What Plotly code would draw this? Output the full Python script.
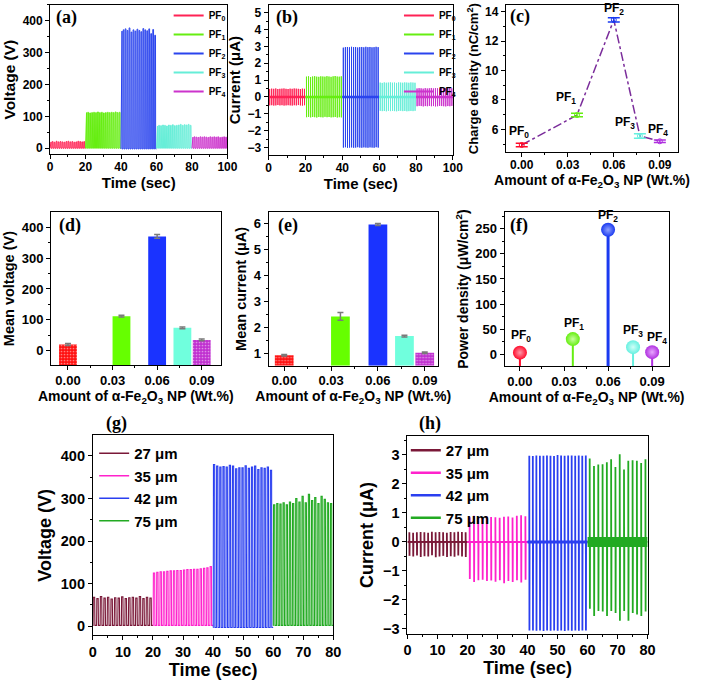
import plotly.graph_objects as go

# ---------------- data ----------------
pf_labels = ["PF<sub>0</sub>", "PF<sub>1</sub>", "PF<sub>2</sub>", "PF<sub>3</sub>", "PF<sub>4</sub>"]
np_content = [0.0, 0.036, 0.06, 0.077, 0.09]          # wt.% of alpha-Fe2O3 NP
wt_ticks = [0.00, 0.03, 0.06, 0.09]

# (a) voltage peaks (V) per pulse, segments of 20 s
time_segments_pf = [0, 20, 40, 60, 80, 100]
volt_pf0 = [20, 21, 19, 22, 20, 21, 20, 19, 21, 22, 20, 21, 19, 20, 22, 21, 20, 21]
volt_pf1 = [112, 113, 111, 112, 113, 112, 114, 112, 113, 111, 112, 113, 112, 113, 112, 114, 112, 113]
volt_pf2 = [368, 372, 375, 370, 378, 365, 372, 368, 374, 370, 366, 376, 372, 369, 375, 360, 373, 355]
volt_pf3 = [70, 72, 71, 73, 72, 70, 73, 72, 74, 71, 72, 73, 75, 72, 74, 73, 75, 72]
volt_pf4 = [35, 36, 35, 34, 36, 35, 36, 35, 34, 36, 35, 36, 35, 36, 34, 35, 36, 35]

# (b) current peaks (uA), positive / negative
cur_pf0_pos = [0.47, 0.49, 0.48, 0.50, 0.47, 0.48, 0.49, 0.50, 0.48, 0.47, 0.49, 0.48, 0.50, 0.49, 0.48, 0.47, 0.49, 0.48]
cur_pf0_neg = [-0.50, -0.49, -0.51, -0.50, -0.48, -0.50, -0.49, -0.51, -0.50, -0.49, -0.50, -0.51, -0.49, -0.50, -0.48, -0.50, -0.51, -0.49]
cur_pf1_pos = [1.20, 1.22, 1.18, 1.21, 1.23, 1.20, 1.19, 1.22, 1.21, 1.20, 1.23, 1.21, 1.19, 1.22, 1.24, 1.21, 1.20, 1.22]
cur_pf1_neg = [-1.20, -1.18, -1.21, -1.19, -1.20, -1.22, -1.19, -1.20, -1.21, -1.18, -1.20, -1.19, -1.21, -1.20, -1.19, -1.22, -1.20, -1.21]
cur_pf2_pos = [2.92, 2.95, 2.96, 2.94, 2.97, 2.95, 2.96, 2.93, 2.95, 2.96, 2.94, 2.97, 2.95, 2.96, 2.94, 2.95, 2.97, 2.95]
cur_pf2_neg = [-3.00, -2.98, -3.01, -3.00, -2.99, -3.01, -3.00, -2.98, -3.00, -3.01, -2.99, -3.00, -3.01, -2.99, -3.00, -3.01, -2.98, -3.00]
cur_pf3_pos = [0.85, 0.83, 0.86, 0.84, 0.85, 0.86, 0.84, 0.85, 0.83, 0.86, 0.85, 0.84, 0.86, 0.85, 0.84, 0.86, 0.85, 0.84]
cur_pf3_neg = [-0.82, -0.84, -0.83, -0.85, -0.82, -0.84, -0.83, -0.84, -0.85, -0.83, -0.82, -0.84, -0.83, -0.85, -0.84, -0.83, -0.84, -0.82]
cur_pf4_pos = [0.50, 0.52, 0.51, 0.49, 0.52, 0.50, 0.51, 0.53, 0.50, 0.52, 0.51, 0.50, 0.52, 0.51, 0.53, 0.50, 0.52, 0.51]
cur_pf4_neg = [-0.55, -0.53, -0.54, -0.56, -0.54, -0.55, -0.53, -0.55, -0.54, -0.56, -0.55, -0.53, -0.54, -0.55, -0.56, -0.54, -0.55, -0.53]

# (c) charge density (nC/cm2)
charge_density = [4.94, 6.97, 13.44, 5.55, 5.19]
charge_err = [0.12, 0.12, 0.15, 0.15, 0.08]

# (d) mean voltage (V)
mean_voltage = [20, 112, 370, 74, 35]
mean_voltage_err = [3, 2.5, 6, 2.5, 3]

# (e) mean current (uA)
mean_current = [0.93, 2.43, 5.97, 1.67, 1.03]
mean_current_err = [0.03, 0.15, 0.04, 0.03, 0.03]

# (f) power density (uW/cm2)
power_density = [3, 30, 248, 14, 4]

# (g)/(h) film thickness series
thickness_labels = ["27 μm", "35 μm", "42 μm", "75 μm"]
time_segments_th = [0, 20, 40, 60, 80]
volt_27 = [68, 65, 70, 66, 68, 64, 67, 66, 69, 65, 67, 68, 66, 70, 65, 68, 66]
volt_35 = [125, 127, 128, 128, 129, 130, 130, 131, 131, 132, 133, 133, 134, 134, 135, 136, 137, 140]
volt_42 = [380, 376, 374, 375, 374, 378, 376, 370, 372, 372, 377, 371, 374, 376, 368, 372, 371, 374, 366]
volt_75 = [285, 288, 287, 290, 285, 292, 288, 300, 292, 305, 290, 310, 295, 302, 288, 305, 298, 290, 288]

cur_27_pos = [0.33, 0.32, 0.33, 0.34, 0.33, 0.32, 0.35, 0.33, 0.34, 0.33, 0.32, 0.34, 0.33, 0.35, 0.34, 0.33]
cur_27_neg = [-0.48, -0.50, -0.47, -0.52, -0.49, -0.50, -0.46, -0.53, -0.50, -0.48, -0.52, -0.49, -0.51, -0.47, -0.50, -0.52]
cur_35_pos = [0.85, 0.90, 0.86, 0.84, 0.88, 0.86, 0.85, 0.83, 0.87, 0.88, 0.84, 0.90, 0.92, 0.89]
cur_35_neg = [-1.28, -1.38, -1.32, -1.30, -1.35, -1.33, -1.37, -1.32, -1.42, -1.35, -1.38, -1.32, -1.40, -1.30]
cur_42_pos = [2.97, 2.96, 2.98, 2.97, 2.97, 2.98, 2.97, 2.96, 3.00, 2.98, 2.97, 2.98, 2.98, 2.97, 2.98, 2.97, 2.98]
cur_42_neg = [-3.05, -3.05, -3.06, -3.05, -3.07, -3.05, -3.06, -3.05, -3.06, -3.05, -3.07, -3.05, -3.06, -3.05, -3.06, -3.05, -3.05]
cur_75_pos = [2.88, 2.62, 2.67, 2.68, 2.75, 2.85, 2.58, 3.02, 2.50, 2.80, 2.82, 2.80, 2.72, 2.85]
cur_75_neg = [-2.30, -2.55, -2.38, -2.40, -2.55, -2.38, -2.45, -2.72, -2.38, -2.72, -2.45, -2.50, -2.55, -2.40]

# ---------------- style ----------------
W, H = 701, 682
FONT = "Liberation Sans, Arial, sans-serif"
SERIF = "Liberation Serif, Times New Roman, serif"
pf_line_colors = ["#FF2255", "#66EE11", "#2A44EE", "#66EED8", "#CC33CC"]
pf_bar_colors = ["#FF1010", "#66FF00", "#1A33FF", "#70FFDD", "#C030D0"]
pf_pattern_fg = ["#C80000", "#000000", "#000000", "#000000", "#8A209A"]
pf_dot_colors = ["#FF0A2A", "#66EE11", "#1A3AF0", "#66F0E0", "#B030E0"]
pf_dot_tints = ["#FF9AAA", "#C8FFA0", "#8FA0FF", "#D0FFF8", "#E8A8FF"]
th_colors = ["#7A1838", "#FF22CC", "#2A3FF0", "#22AA22"]
band_widths = [1.5, 2, 3, 10]

rng_a = [-19, 450]; rng_b = [-3.46, 5.45]; rng_c = [4.44, 14.45]
rng_d = [-46.5, 449]; rng_e = [0.53, 6.45]; rng_f = [-23.8, 283.4]
rng_g = [-21.7, 449]; rng_h = [-3.17, 3.65]


def dom_x(x0, x1):
    return [x0 / W, x1 / W]


def dom_y(y0, y1):
    return [1 - y1 / H, 1 - y0 / H]


def pulse_wave(t0, t1, peaks, low=0.0):
    n = len(peaks)
    T = (t1 - t0) / n
    xs, ys = [t0], [low]
    for i, p in enumerate(peaks):
        s = t0 + i * T
        xs += [s + 0.05 * T, s + 0.12 * T, s + 0.5 * T, s + 0.57 * T, s + T]
        ys += [low, p, p, low, low]
    return xs, ys


def spike_wave(t0, t1, pos, neg):
    n = len(pos)
    T = (t1 - t0) / n
    xs, ys = [t0], [0]
    for i, (p, q) in enumerate(zip(pos, neg)):
        s = t0 + (i + 0.5) * T
        xs += [s, s, s + 0.04 * T, s + 0.08 * T]
        ys += [0, p, q, 0]
    xs.append(t1)
    ys.append(0)
    return xs, ys


fig = go.Figure()

# ---- (a) ----
volt_pf = [volt_pf0, volt_pf1, volt_pf2, volt_pf3, volt_pf4]
for i, peaks in enumerate(volt_pf):
    xs, ys = pulse_wave(time_segments_pf[i], time_segments_pf[i + 1], peaks, low=-2 if i == 2 else 0)
    fig.add_trace(go.Scatter(x=xs, y=ys, mode="lines", line=dict(color=pf_line_colors[i], width=1),
                             showlegend=False, xaxis="x", yaxis="y"))
    fig.add_trace(go.Scatter(x=[None], y=[None], mode="lines", line=dict(color=pf_line_colors[i], width=2),
                             name=pf_labels[i], legend="legend", xaxis="x", yaxis="y"))

# ---- (b) ----
cur_pf = [(cur_pf0_pos, cur_pf0_neg), (cur_pf1_pos, cur_pf1_neg), (cur_pf2_pos, cur_pf2_neg),
          (cur_pf3_pos, cur_pf3_neg), (cur_pf4_pos, cur_pf4_neg)]
for i, (pos, neg) in enumerate(cur_pf):
    t0, t1 = time_segments_pf[i], time_segments_pf[i + 1]
    xs, ys = spike_wave(t0, t1, pos, neg)
    fig.add_trace(go.Scatter(x=xs, y=ys, mode="lines", line=dict(color=pf_line_colors[i], width=1),
                             showlegend=False, xaxis="x2", yaxis="y2"))
    fig.add_trace(go.Scatter(x=[t0, t1], y=[0, 0], mode="lines", line=dict(color=pf_line_colors[i], width=2.5),
                             showlegend=False, xaxis="x2", yaxis="y2"))
    fig.add_trace(go.Scatter(x=[None], y=[None], mode="lines", line=dict(color=pf_line_colors[i], width=2),
                             name=pf_labels[i], legend="legend2", xaxis="x2", yaxis="y2"))

# ---- (c) ----
fig.add_trace(go.Scatter(x=np_content, y=charge_density, mode="lines",
                         line=dict(color="#7B2D9B", width=1.5, dash="dashdot"),
                         showlegend=False, xaxis="x3", yaxis="y3"))
for i in range(5):
    fig.add_trace(go.Scatter(x=[np_content[i]], y=[charge_density[i]], mode="markers",
                             marker=dict(symbol="circle-open", size=5, color=pf_dot_colors[i], line=dict(width=1)),
                             error_y=dict(type="data", array=[charge_err[i]], color=pf_dot_colors[i],
                                          thickness=1.5, width=6),
                             showlegend=False, xaxis="x3", yaxis="y3"))
c_label_shift = [(-3, 13), (-11, 17), (0, 11), (-15, 13), (-2, 11)]

# ---- (d) ----
bar_patterns = [".", "", "", "", "."]
fig.add_trace(go.Bar(x=np_content, y=[v - rng_d[0] for v in mean_voltage], base=rng_d[0], width=0.012,
                     marker=dict(color=pf_bar_colors, line=dict(width=0),
                                 pattern=dict(shape=bar_patterns, fgcolor=pf_pattern_fg,
                                              fillmode="overlay", size=3, solidity=0.25)),
                     error_y=dict(type="data", array=mean_voltage_err, color="#7a7a7a", thickness=1.5, width=3),
                     showlegend=False, xaxis="x4", yaxis="y4"))

# ---- (e) ----
fig.add_trace(go.Bar(x=np_content, y=[v - rng_e[0] for v in mean_current], base=rng_e[0], width=0.012,
                     marker=dict(color=pf_bar_colors, line=dict(width=0),
                                 pattern=dict(shape=bar_patterns, fgcolor=pf_pattern_fg,
                                              fillmode="overlay", size=3, solidity=0.25)),
                     error_y=dict(type="data", array=mean_current_err, color="#7a7a7a", thickness=1.5, width=3),
                     showlegend=False, xaxis="x5", yaxis="y5"))

# ---- (f) ----
for i in range(5):
    fig.add_trace(go.Scatter(x=[np_content[i], np_content[i]], y=[rng_f[0], power_density[i]], mode="lines",
                             line=dict(color=pf_dot_colors[i], width=3 if i == 2 else 2),
                             showlegend=False, xaxis="x6", yaxis="y6"))
fig.add_trace(go.Scatter(x=np_content, y=power_density, mode="markers",
                         marker=dict(size=14, color=pf_dot_colors, line=dict(width=0),
                                     gradient=dict(type="radial", color=pf_dot_tints)),
                         showlegend=False, cliponaxis=False, xaxis="x6", yaxis="y6"))
f_label_shift = [(1, 17), (1, 15), (0, 14), (0, 16), (5, 14)]


# ---- (g) ----
volt_th = [volt_27, volt_35, volt_42, volt_75]
for i, peaks in enumerate(volt_th):
    xs, ys = pulse_wave(time_segments_th[i], time_segments_th[i + 1], peaks, low=-3 if i == 2 else 2)
    fig.add_trace(go.Scatter(x=xs, y=ys, mode="lines", line=dict(color=th_colors[i], width=1.1),
                             showlegend=False, xaxis="x7", yaxis="y7"))
    fig.add_trace(go.Scatter(x=[None], y=[None], mode="lines", line=dict(color=th_colors[i], width=1.5),
                             name=thickness_labels[i], legend="legend3", xaxis="x7", yaxis="y7"))

# ---- (h) ----
cur_th = [(cur_27_pos, cur_27_neg), (cur_35_pos, cur_35_neg), (cur_42_pos, cur_42_neg), (cur_75_pos, cur_75_neg)]
for i, (pos, neg) in enumerate(cur_th):
    t0, t1 = time_segments_th[i], time_segments_th[i + 1]
    xs, ys = spike_wave(t0, t1, pos, neg)
    fig.add_trace(go.Scatter(x=xs, y=ys, mode="lines", line=dict(color=th_colors[i], width=1.8),
                             showlegend=False, xaxis="x8", yaxis="y8"))
    fig.add_trace(go.Scatter(x=[t0, t1], y=[0, 0], mode="lines",
                             line=dict(color=th_colors[i], width=band_widths[i]),
                             showlegend=False, xaxis="x8", yaxis="y8"))
    fig.add_trace(go.Scatter(x=[None], y=[None], mode="lines", line=dict(color=th_colors[i], width=2.5),
                             name=thickness_labels[i], legend="legend4", xaxis="x8", yaxis="y8"))


# ---------------- layout ----------------
def axis(domain, rng, anchor, tick_size, title, title_size, standoff, dtick=None, minor=None,
         tickvals=None, tickformat=None, lab_off=0):
    d = dict(domain=domain, range=rng, anchor=anchor, showline=True, linecolor="black", linewidth=1,
             mirror=True, ticks="outside", ticklen=4, tickwidth=1, tickcolor="black",
             showgrid=False, zeroline=False, ticklabelstandoff=lab_off,
             tickfont=dict(family=FONT, size=tick_size, color="black", weight="bold"),
             title=dict(text=title, font=dict(family=FONT, size=title_size, color="black", weight="bold"),
                        standoff=standoff))
    if tickvals is not None:
        d.update(tickmode="array", tickvals=tickvals)
    else:
        d.update(tick0=0, dtick=dtick)
    if tickformat:
        d["tickformat"] = tickformat
    if minor:
        d["minor"] = dict(ticks="outside", ticklen=2, tickcolor="black", tick0=0, dtick=minor, showgrid=False)
    return d


wt_title = "Amount of α-Fe<sub>2</sub>O<sub>3</sub> NP (Wt.%)"

layout = dict(
    width=W, height=H, margin=dict(l=0, r=0, t=0, b=0),
    paper_bgcolor="white", plot_bgcolor="white",
    font=dict(family=FONT, color="black"),
    xaxis=axis(dom_x(47, 228), [0, 100], "y", 12, "Time (sec)", 15, 1, dtick=20, minor=10, lab_off=-3),
    yaxis=axis(dom_y(5, 155), rng_a, "x", 12, "Voltage (V)", 15.5, 3, dtick=100, minor=50),
    xaxis2=axis(dom_x(270, 458), [0, 100], "y2", 12, "Time (sec)", 15, 1, dtick=20, minor=10, lab_off=-3),
    yaxis2=axis(dom_y(5, 156), rng_b, "x2", 12, "Current (μA)", 15, 3, dtick=1, minor=0.5),
    xaxis3=axis(dom_x(512, 688), [-0.0104, 0.102], "y3", 12, wt_title, 14, 0, minor=0.015,
                tickvals=wt_ticks, tickformat=".2f", lab_off=-3),
    yaxis3=axis(dom_y(5, 153), rng_c, "x3", 12, "Charge density (nC/cm<sup>2</sup>)", 13, 3, dtick=2, minor=1),
    xaxis4=axis(dom_x(48, 221), [-0.0114, 0.1027], "y4", 13, wt_title, 14, 0, minor=0.015,
                tickvals=wt_ticks, tickformat=".2f", lab_off=-1),
    yaxis4=axis(dom_y(213, 366.7), rng_d, "x4", 13, "Mean voltage (V)", 14.5, 3, dtick=100, minor=50),
    xaxis5=axis(dom_x(270, 442.7), [-0.01, 0.0984], "y5", 13, wt_title, 14, 0, minor=0.015,
                tickvals=wt_ticks, tickformat=".2f", lab_off=-1),
    yaxis5=axis(dom_y(213, 367.3), rng_e, "x5", 13, "Mean current (μA)", 14.5, 3, dtick=1, minor=0.5),
    xaxis6=axis(dom_x(510.7, 678.3), [-0.0105, 0.1013], "y6", 13, wt_title, 14, 0, minor=0.015,
                tickvals=wt_ticks, tickformat=".2f", lab_off=-1),
    yaxis6=axis(dom_y(213, 367.7), rng_f, "x6", 13, "Power density (μW/cm<sup>2</sup>)", 14, 3, dtick=50, minor=25),
    xaxis7=axis(dom_x(90.7, 336), [0, 80], "y7", 14.5, "Time (sec)", 18, 0, dtick=10, minor=5, lab_off=-1),
    yaxis7=axis(dom_y(437, 638.3), rng_g, "x7", 14.5, "Voltage (V)", 18, 4, dtick=100, minor=50),
    xaxis8=axis(dom_x(411.7, 656.7), [0, 80], "y8", 14.5, "Time (sec)", 18, 0, dtick=10, minor=5, lab_off=-1),
    yaxis8=axis(dom_y(438, 636.7), rng_h, "x8", 14.5, "Current (μA)", 18, 4, dtick=1, minor=0.5),
    legend=dict(x=168 / W, y=1 - 1 / H, xanchor="left", yanchor="top", bgcolor="rgba(0,0,0,0)",
                font=dict(family=FONT, size=10, color="black", weight="bold"), tracegroupgap=0),
    legend2=dict(x=403 / W, y=1 - 1 / H, xanchor="left", yanchor="top", bgcolor="rgba(0,0,0,0)",
                 font=dict(family=FONT, size=10, color="black", weight="bold"), tracegroupgap=0),
    legend3=dict(x=92 / W, y=1 - 439 / H, xanchor="left", yanchor="top", bgcolor="rgba(0,0,0,0)",
                 font=dict(family=FONT, size=15, color="black", weight="bold"), tracegroupgap=0),
    legend4=dict(x=410 / W, y=1 - 436 / H, xanchor="left", yanchor="top", bgcolor="rgba(0,0,0,0)",
                 font=dict(family=FONT, size=15, color="black", weight="bold"), tracegroupgap=0),
)
fig.update_layout(**layout)

# panel letters
panel_letters = [("(a)", 64, 18), ("(b)", 289, 18), ("(c)", 527, 17), ("(d)", 67, 226),
                 ("(e)", 290, 226), ("(f)", 525, 226), ("(g)", 115, 425), ("(h)", 435, 425)]
for txt, xp, yp in panel_letters:
    fig.add_annotation(x=xp / W, y=1 - yp / H, xref="paper", yref="paper", text=txt, showarrow=False,
                       font=dict(family=SERIF, size=18, color="black", weight="bold"),
                       xanchor="center", yanchor="middle")

# (c) point labels
for i in range(5):
    fig.add_annotation(x=np_content[i], y=charge_density[i], xref="x3", yref="y3", text=pf_labels[i],
                       showarrow=False, xshift=c_label_shift[i][0], yshift=c_label_shift[i][1],
                       font=dict(family=FONT, size=12, color="black", weight="bold"))

# (f) point labels
for i in range(5):
    fig.add_annotation(x=np_content[i], y=power_density[i], xref="x6", yref="y6", text=pf_labels[i],
                       showarrow=False, xshift=f_label_shift[i][0], yshift=f_label_shift[i][1],
                       font=dict(family=FONT, size=12, color="black", weight="bold"))

fig.write_html("out.html", config={"displayModeBar": False},
               post_script="document.body.style.margin='0';document.body.style.padding='0';"
                           "document.body.style.overflow='hidden';")
